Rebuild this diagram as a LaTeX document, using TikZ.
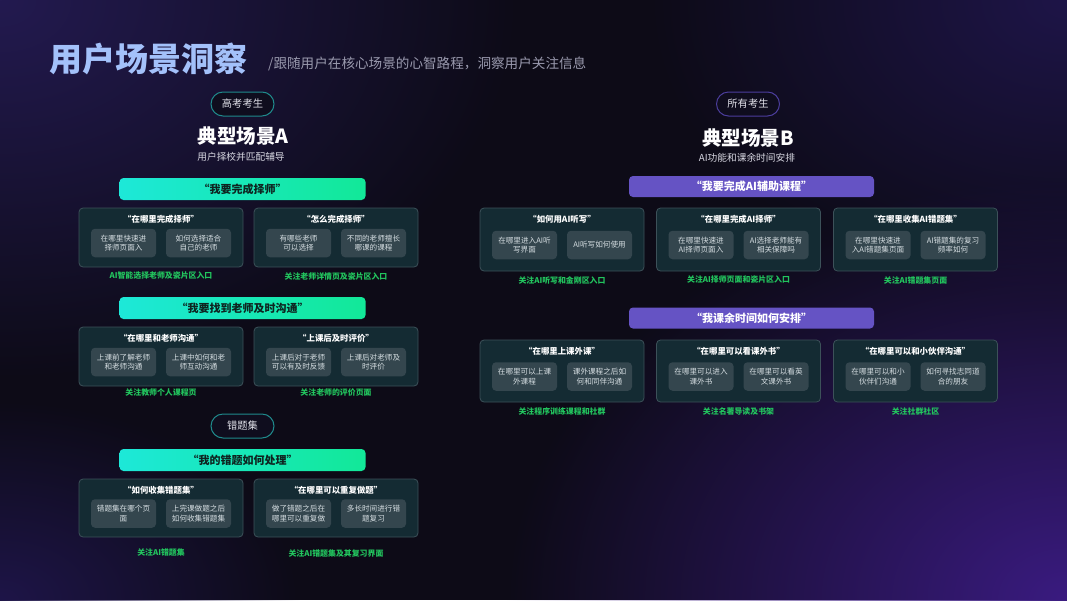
\documentclass[tikz,border=0pt]{standalone}
\usepackage{fontspec}
\setmainfont{Noto Sans CJK SC}
\usetikzlibrary{fadings}
\tikzfading[name=glowfade, inner color=transparent!0, outer color=transparent!100]
\definecolor{bgbase}{HTML}{0D0B17}
\definecolor{glowtl}{HTML}{231A50}
\definecolor{glowbr}{HTML}{3A1B80}
\definecolor{glowtr}{HTML}{1E1548}
\definecolor{cardfill}{HTML}{142B33}
\definecolor{cardline}{HTML}{3C5159}
\definecolor{subfill}{HTML}{34464E}
\definecolor{subtext}{HTML}{D6DEE2}
\definecolor{capgreen}{HTML}{22C55E}
\definecolor{barcyan}{HTML}{1DE8D8}
\definecolor{bargreen}{HTML}{12E898}
\definecolor{bartext}{HTML}{0E2420}
\definecolor{barpurple}{HTML}{6553C4}
\definecolor{pillfill}{HTML}{0F0D1E}
\definecolor{pillteal}{HTML}{1F8A8C}
\definecolor{pillpurple}{HTML}{4B3D9C}
\definecolor{pilltext}{HTML}{E2E2EA}
\definecolor{titleblue}{HTML}{A3C1FA}
\definecolor{subgray}{HTML}{9A9AAE}
\definecolor{headsub}{HTML}{D8D8E2}
\tikzset{
  card/.style={draw=cardline, fill=cardfill, rounded corners=4pt, line width=0.8pt, minimum width=164pt, inner sep=0pt},
  subbox/.style={fill=subfill, rounded corners=4pt, minimum width=65pt, minimum height=28.5pt, align=center, text=subtext, font=\fontsize{7.6}{9.6}\selectfont, inner sep=0pt},
  ctitle/.style={text=white, font=\bfseries\fontsize{8.4}{10}\selectfont, inner sep=0pt},
  capt/.style={text=capgreen, font=\bfseries\fontsize{7.9}{9}\selectfont, inner sep=0pt},
  gbar/.style={rounded corners=4pt, minimum width=246pt, minimum height=22pt, left color=barcyan, right color=bargreen, text=bartext, font=\bfseries\fontsize{11}{13}\selectfont, inner sep=0pt},
  pbar/.style={rounded corners=4pt, minimum width=245pt, minimum height=21pt, fill=barpurple, text=white, font=\bfseries\fontsize{11}{13}\selectfont, inner sep=0pt},
  pill/.style={rounded corners=12pt, minimum width=63pt, minimum height=24pt, line width=1pt, fill=pillfill, text=pilltext, font=\fontsize{10.3}{12}\selectfont, inner sep=0pt},
  headline/.style={text=white, font=\bfseries\fontsize{19.5}{22}\selectfont, inner sep=0pt},
  headsubst/.style={text=headsub, font=\fontsize{9.7}{11}\selectfont, inner sep=0pt}
}
\newcommand\mkcard[9]{%
  \node[card, minimum height={(#4-#3)*1pt}] (#1) at (#2,{(#3+#4)/2}) {};
  \node[ctitle] (#1-t) at (#2,#3+11) {#5};
  \node[subbox] (#1-a) at (#2-37.5,{(#3+#4)/2+5.5}) {#6};
  \node[subbox] (#1-b) at (#2+37.5,{(#3+#4)/2+5.5}) {#7};
  \node[capt] (#1-c) at (#2,#9) {#8};
}
\begin{document}
\begin{tikzpicture}[x=1pt,y=-1pt]
\useasboundingbox (0,0) rectangle (1067,600);
% background
\fill[bgbase] (0,0) rectangle (1067,600);
\begin{scope}
\clip (0,0) rectangle (1067,600);
\fill[glowtl, path fading=glowfade] (0,0) ellipse (520 and 380);
\fill[glowtr, path fading=glowfade] (1067,0) ellipse (420 and 300);
\fill[glowbr, path fading=glowfade] (1067,600) ellipse (560 and 420);
\fill[glowtr, path fading=glowfade] (0,600) ellipse (300 and 200);
\end{scope}
% title
\node[anchor=west, text=titleblue, font=\bfseries\fontsize{33}{36}\selectfont, inner sep=0pt] (title) at (49,59) {用户场景洞察};
\node[anchor=west, text=subgray, font=\fontsize{13.6}{15}\selectfont, inner sep=0pt] (subtitle) at (268,63.5) {/跟随用户在核心场景的心智路程，洞察用户关注信息};

% ===== Scenario A =====
\node[pill, draw=pillteal] (pillA) at (242.5,104) {高考考生};
\node[headline] (headA) at (243,136) {典型场景A};
\node[headsubst] (subA) at (241,157) {用户择校并匹配辅导};

\node[gbar] (barA1) at (242.5,189) {“我要完成择师”};
\mkcard{la1}{161}{208}{267}{“在哪里完成择师”}{在哪里快速进\\择师页面入}{如何选择适合\\自己的老师}{AI智能选择老师及瓷片区入口}{276}
\mkcard{la2}{336}{208}{267}{“怎么完成择师”}{有哪些老师\\可以选择}{不同的老师擅长\\哪课的课程}{关注老师详情页及瓷片区入口}{276}

\node[gbar] (barA2) at (242.5,308) {“我要找到老师及时沟通”};
\mkcard{lb1}{161}{327}{386}{“在哪里和老师沟通”}{上课前了解老师\\和老师沟通}{上课中如何和老\\师互动沟通}{关注教师个人课程页}{392}
\mkcard{lb2}{336}{327}{386}{“上课后及时评价”}{上课后对于老师\\可以有及时反馈}{上课后对老师及\\时评价}{关注老师的评价页面}{393}

\node[pill, draw=pillteal] (pillC) at (242.5,426) {错题集};
\node[gbar] (barA3) at (242.5,460) {“我的错题如何处理”};
\mkcard{lc1}{161}{479}{537}{“如何收集错题集”}{错题集在哪个页\\面}{上完课做题之后\\如何收集错题集}{关注AI错题集}{552}
\mkcard{lc2}{336}{479}{537}{“在哪里可以重复做题”}{做了错题之后在\\哪里可以重复做}{多长时间进行错\\题复习}{关注AI错题集及其复习界面}{553}

% ===== Scenario B =====
\node[pill, draw=pillpurple] (pillB) at (748,104) {所有考生};
\node[headline] (headB) at (748,138) {典型场景B};
\node[headsubst] (subB) at (747,158) {AI功能和课余时间安排};

\node[pbar] (barB1) at (751.5,186.5) {“我要完成AI辅助课程”};
\mkcard{ra1}{562}{208}{271}{“如何用AI听写”}{在哪里进入AI听\\写界面}{AI听写如何使用}{关注AI听写和金刚区入口}{280}
\mkcard{ra2}{738.5}{208}{271}{“在哪里完成AI择师”}{在哪里快速进\\AI择师页面入}{AI选择老师能有\\相关保障吗}{关注AI择师页面和瓷片区入口}{280}
\mkcard{ra3}{915.5}{208}{271}{“在哪里收集AI错题集”}{在哪里快速进\\入AI错题集页面}{AI错题集的复习\\频率如何}{关注AI错题集页面}{280}

\node[pbar] (barB2) at (751.5,318) {“我课余时间如何安排”};
\mkcard{rb1}{562}{340}{402}{“在哪里上课外课”}{在哪里可以上课\\外课程}{课外课程之后如\\何和同伴沟通}{关注程序训练课程和社群}{411}
\mkcard{rb2}{738.5}{340}{402}{“在哪里可以看课外书”}{在哪里可以进入\\课外书}{在哪里可以看英\\文课外书}{关注名著导读及书架}{411}
\mkcard{rb3}{915.5}{340}{402}{“在哪里可以和小伙伴沟通”}{在哪里可以和小\\伙伴们沟通}{如何寻找志同道\\合的朋友}{关注社群社区}{411}
\end{tikzpicture}
\end{document}
